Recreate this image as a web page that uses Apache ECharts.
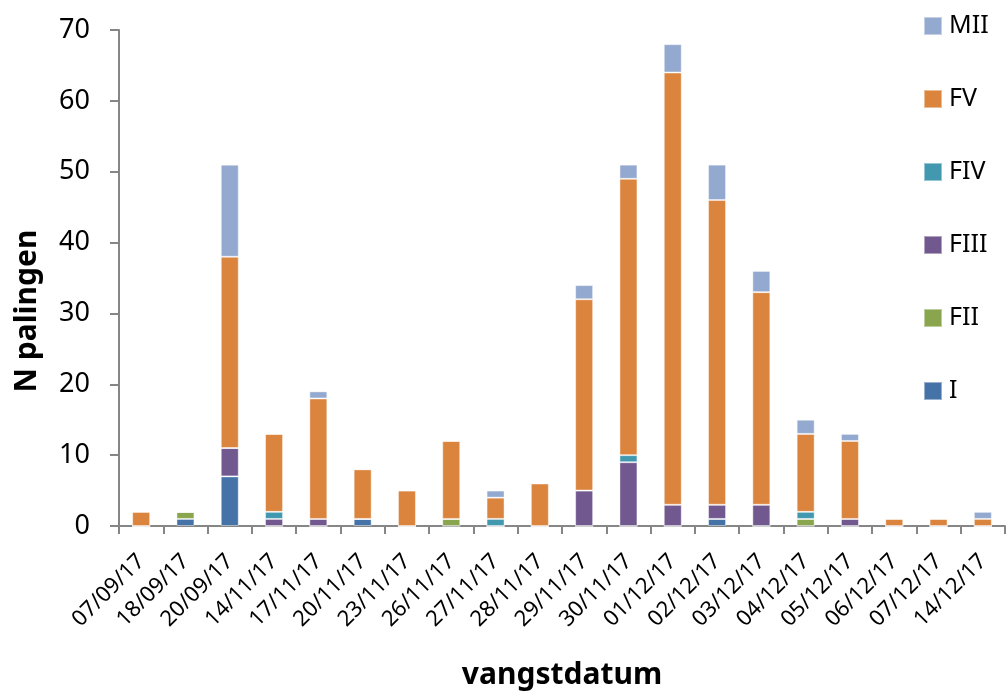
<!DOCTYPE html>
<html>
<head>
<meta charset="utf-8">
<script src="https://cdn.jsdelivr.net/npm/echarts@6/dist/echarts.min.js"></script>
<style>html,body{margin:0;padding:0;background:#fff;}#c{width:1006px;height:695px;}</style>
</head>
<body>
<div id="c"></div>
<script>
const categories = ['07/09/17','18/09/17','20/09/17','14/11/17','17/11/17','20/11/17','23/11/17','26/11/17','27/11/17','28/11/17','29/11/17','30/11/17','01/12/17','02/12/17','03/12/17','04/12/17','05/12/17','06/12/17','07/12/17','14/12/17'];
const I_vals    = [0,1,7,0,0,1,0,0,0,0,0,0,0,1,0,0,0,0,0,0];
const FII_vals  = [0,1,0,0,0,0,0,1,0,0,0,0,0,0,0,1,0,0,0,0];
const FIII_vals = [0,0,4,1,1,0,0,0,0,0,5,9,3,2,3,0,1,0,0,0];
const FIV_vals  = [0,0,0,1,0,0,0,0,1,0,0,1,0,0,0,1,0,0,0,0];
const FV_vals   = [2,0,27,11,17,7,5,11,3,6,27,39,61,43,30,11,11,1,1,1];
const MII_vals  = [0,0,13,0,1,0,0,0,1,0,2,2,4,5,3,2,1,0,0,1];
const yTicks = [0,10,20,30,40,50,60,70];

const seriesDefs = [
  {name:'I', data:I_vals, color:'#4572A7'},
  {name:'FII', data:FII_vals, color:'#89A54E'},
  {name:'FIII', data:FIII_vals, color:'#71588F'},
  {name:'FIV', data:FIV_vals, color:'#4198AF'},
  {name:'FV', data:FV_vals, color:'#DB843D'},
  {name:'MII', data:MII_vals, color:'#93A9CF'}
];
const font = 'Noto Sans, Open Sans, sans-serif';
const chart = echarts.init(document.getElementById('c'));
chart.setOption({
  animation:false,
  textStyle:{fontFamily:font},
  grid:{left:119, right:1, top:30, bottom:167, containLabel:false},
  legend:{
    orient:'vertical', left:918, top:8,
    itemWidth:18, itemHeight:18, itemGap:47,
    icon:'rect',
    data:['MII','FV','FIV','FIII','FII','I'],
    textStyle:{fontSize:25, lineHeight:26, color:'#000', fontFamily:font, padding:[0,0,0,2]}
  },
  xAxis:{
    type:'category', data:categories,
    name:'vangstdatum', nameLocation:'middle', nameGap:134,
    nameTextStyle:{fontSize:30, fontWeight:'bold', color:'#000', fontFamily:font},
    axisLine:{lineStyle:{color:'#868686', width:2}},
    axisTick:{show:true, length:8, alignWithLabel:false, lineStyle:{color:'#868686', width:2}},
    axisLabel:{rotate:45, fontSize:22, color:'#000', margin:32, interval:0, fontFamily:font}
  },
  yAxis:{
    type:'value', min:0, max:70, interval:10,
    name:'N palingen', nameLocation:'middle', nameGap:77,
    nameTextStyle:{fontSize:30, fontWeight:'bold', color:'#000', fontFamily:font, padding:[0,66,0,0]},
    axisLine:{show:true, lineStyle:{color:'#868686', width:2}},
    axisTick:{show:true, length:9, lineStyle:{color:'#868686', width:2}},
    splitLine:{show:false},
    axisLabel:{fontSize:27, color:'#000', margin:29, fontFamily:font,
      formatter:function(v){return yTicks.indexOf(v)>=0 ? String(v) : '';}}
  },
  series: seriesDefs.map(s=>({
    name:s.name, type:'bar', stack:'total', data:s.data, barWidth:18,
    itemStyle:{color:s.color, borderColor:'rgba(255,255,255,0.45)', borderWidth:1}
  }))
});
</script>
</body>
</html>
